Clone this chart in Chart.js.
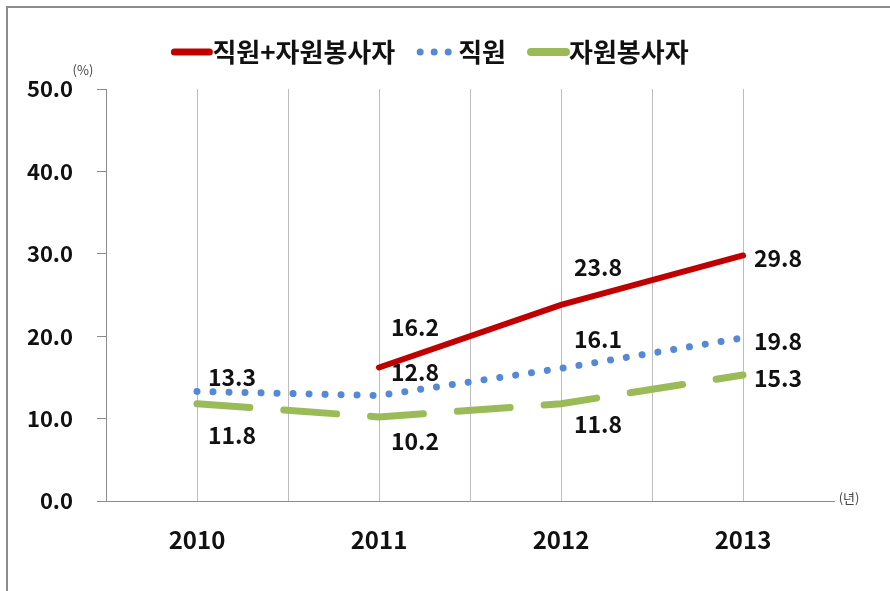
<!DOCTYPE html>
<html>
<head>
<meta charset="utf-8">
<script src="https://cdn.jsdelivr.net/npm/chart.js@4"></script>
<style>
  body { margin: 0; background: #fff; }
</style>
</head>
<body>
<canvas id="chart" width="890" height="591"></canvas>
<script>
const years = ['2010', '2011', '2012', '2013'];
const seriesNames = ['직원+자원봉사자', '직원', '자원봉사자'];
const totalRate = [null, 16.2, 23.8, 29.8];
const staffRate = [13.3, 12.8, 16.1, 19.8];
const volunteerRate = [11.8, 10.2, 11.8, 15.3];

const FONT = '"Noto Sans CJK KR", "Noto Sans", sans-serif';

// label offsets from each point, per dataset
const labelOffsets = [
  [null, [36, -40], [37, -38], [35, 3]],
  [[35, -14], [36, -23], [37, -29], [35, 3]],
  [[35, 31], [36, 24], [37, 20], [35, 3]]
];

const pointLabels = {
  id: 'pointLabels',
  afterDatasetsDraw(chart) {
    const ctx = chart.ctx;
    ctx.save();
    ctx.font = 'bold 23px ' + FONT;
    ctx.fillStyle = '#111';
    ctx.textAlign = 'center';
    ctx.textBaseline = 'middle';
    chart.data.datasets.forEach((ds, di) => {
      const meta = chart.getDatasetMeta(di);
      ds.data.forEach((v, i) => {
        if (v == null) return;
        const p = meta.data[i];
        const off = labelOffsets[di][i];
        ctx.fillText(v.toFixed(1), p.x + off[0], p.y + off[1]);
      });
    });
    ctx.restore();
  }
};

// vertical lines at category centres and between them
const vGrid = {
  id: 'vGrid',
  beforeDatasetsDraw(chart) {
    const x = chart.scales.x, a = chart.chartArea, ctx = chart.ctx;
    ctx.save();
    ctx.strokeStyle = '#bdbdbd';
    ctx.lineWidth = 1;
    ctx.beginPath();
    for (let i = 0; i < years.length; i++) {
      const px = Math.round(x.getPixelForTick(i)) + 0.5;
      ctx.moveTo(px, a.top); ctx.lineTo(px, a.bottom);
      if (i < years.length - 1) {
        const mid = Math.round((x.getPixelForTick(i) + x.getPixelForTick(i + 1)) / 2) + 0.5;
        ctx.moveTo(mid, a.top); ctx.lineTo(mid, a.bottom);
      }
    }
    ctx.stroke();
    ctx.restore();
  }
};

const extras = {
  id: 'extras',
  afterDraw(chart) {
    const ctx = chart.ctx, a = chart.chartArea;
    ctx.save();
    // frame
    ctx.strokeStyle = '#8c8c8c';
    ctx.lineWidth = 2;
    ctx.strokeRect(7, 7, 900, 700);
    // unit labels
    ctx.fillStyle = '#444';
    ctx.font = '13px ' + FONT;
    ctx.textAlign = 'center';
    ctx.textBaseline = 'middle';
    ctx.fillText('(%)', 83, 70);
    ctx.fillText('(년)', 849, a.bottom - 3);
    // legend
    ctx.font = 'bold 26px ' + FONT;
    const sample = 40, gap = 1, spacing = 22;
    const widths = chart.data.datasets.map(ds => ctx.measureText(ds.label).width);
    let total = 0;
    widths.forEach((w, i) => { total += sample + gap + w + (i ? spacing : 0); });
    let x = 430 - total / 2;
    const y = 52;
    chart.data.datasets.forEach((ds, i) => {
      ctx.strokeStyle = ds.borderColor;
      ctx.lineWidth = i === 1 ? ds.borderWidth : ds.borderWidth + 1;
      ctx.lineCap = 'round';
      ctx.setLineDash(i === 1 ? [0.01, 14] : []);
      ctx.beginPath();
      ctx.moveTo(x + 3, y); ctx.lineTo(x + sample - 2, y);
      ctx.stroke();
      ctx.setLineDash([]);
      ctx.fillStyle = '#111';
      ctx.textAlign = 'left';
      ctx.fillText(ds.label, x + sample + gap, y);
      x += sample + gap + widths[i] + spacing;
    });
    ctx.restore();
  }
};

new Chart(document.getElementById('chart'), {
  type: 'line',
  data: {
    labels: years,
    datasets: [
      { label: seriesNames[0], data: totalRate, borderColor: '#C00000', borderWidth: 6,
        borderCapStyle: 'round', pointRadius: 0, spanGaps: false },
      { label: seriesNames[1], data: staffRate, borderColor: '#5588D6', borderWidth: 7,
        borderDash: [0.01, 16], borderCapStyle: 'round', pointRadius: 0 },
      { label: seriesNames[2], data: volunteerRate, borderColor: '#9BBB59', borderWidth: 7,
        borderDash: [53, 34], borderCapStyle: 'round', pointRadius: 0 }
    ]
  },
  options: {
    responsive: false,
    animation: false,
    layout: { padding: { top: 89, right: 56, left: 0, bottom: 0 } },
    plugins: { legend: { display: false }, tooltip: { enabled: false } },
    scales: {
      x: {
        offset: true,
        grid: { display: false },
        border: { color: '#8c8c8c' },
        ticks: { color: '#111', font: { family: FONT, size: 24, weight: 'bold' }, padding: 16 },
        afterFit: s => { s.height = 90; }
      },
      y: {
        min: 0, max: 50,
        ticks: { stepSize: 10, color: '#111', padding: 24,
          font: { family: FONT, size: 22, weight: 'bold' },
          callback: v => v.toFixed(1) },
        grid: { drawOnChartArea: false, tickLength: 9, color: '#8c8c8c' },
        border: { color: '#8c8c8c' },
        afterFit: s => { s.width = 106; }
      }
    }
  },
  plugins: [vGrid, pointLabels, extras]
});
</script>
</body>
</html>
